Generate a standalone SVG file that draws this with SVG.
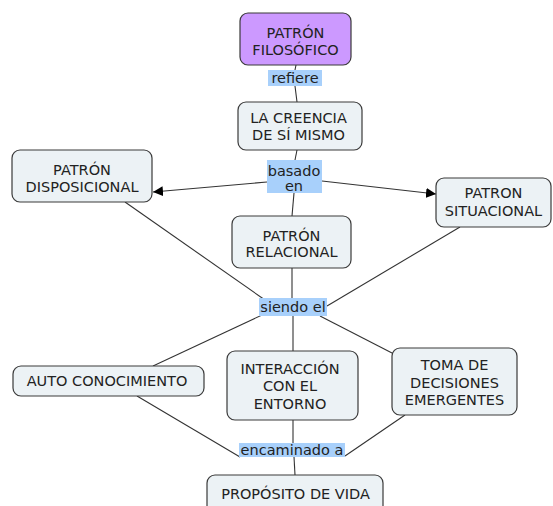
<svg xmlns="http://www.w3.org/2000/svg" width="553" height="506" viewBox="0 0 553 506">
<style>
.n{fill:#ecf2f5;stroke:#3a3a3a;stroke-width:1.2}
.p{fill:#cc99ff}
.t{font-family:"DejaVu Sans",Verdana,sans-serif;font-size:14.5px;fill:#222;text-anchor:middle}
.lb{fill:#a8d0fb}
.c{stroke:#333;stroke-width:1.1;fill:none}
</style>
<defs>
<marker id="ar" viewBox="0 0 10 10" refX="10" refY="5" markerWidth="10" markerHeight="10" markerUnits="userSpaceOnUse" orient="auto"><path d="M0,0L10,5L0,10z" fill="#000"/></marker>
</defs>
<rect width="553" height="506" fill="#fff"/>
<g id="connectors">
<path class="c" d="M296,65L295,70M295,86L297,102"/>
<path class="c" d="M297,150L295,160"/>
<path class="c" d="M267,182L153,192" marker-end="url(#ar)"/>
<path class="c" d="M322,181L436,194" marker-end="url(#ar)"/>
<path class="c" d="M294,193L292,216"/>
<path class="c" d="M125,202L265,300"/>
<path class="c" d="M460,227L327,306"/>
<path class="c" d="M292,268L292,298"/>
<path class="c" d="M262,315L153,366"/>
<path class="c" d="M293,316L293,351"/>
<path class="c" d="M320,316L392,353"/>
<path class="c" d="M137,396L240,457"/>
<path class="c" d="M293,420L293,443"/>
<path class="c" d="M405,415L345,456"/>
<path class="c" d="M294,457L295,475"/>
</g>
<g id="filosofico"><rect class="n p" x="240" y="13" width="111" height="52" rx="8"/><text class="t" x="295.5" y="38">PATRÓN</text><text class="t" x="295.5" y="55">FILOSÓFICO</text></g>
<g id="lbl-refiere"><rect class="lb" x="268" y="70" width="54" height="16"/><text class="t" x="295" y="83">refiere</text></g>
<g id="creencia"><rect class="n" x="238" y="102" width="124" height="48" rx="8"/><text class="t" x="298.5" y="123">LA CREENCIA</text><text class="t" x="298.5" y="140">DE SÍ MISMO</text></g>
<g id="lbl-basado"><rect class="lb" x="267" y="160" width="55" height="33"/><text class="t" x="294" y="176">basado</text><text class="t" x="294" y="191">en</text></g>
<g id="disposicional"><rect class="n" x="12" y="150" width="140" height="52" rx="8"/><text class="t" x="82" y="175">PATRÓN</text><text class="t" x="82" y="192">DISPOSICIONAL</text></g>
<g id="situacional"><rect class="n" x="436" y="178" width="115" height="49" rx="8"/><text class="t" x="493.5" y="198">PATRON</text><text class="t" x="493.5" y="216">SITUACIONAL</text></g>
<g id="relacional"><rect class="n" x="232" y="216" width="119" height="52" rx="8"/><text class="t" x="291.5" y="241">PATRÓN</text><text class="t" x="291.5" y="257">RELACIONAL</text></g>
<g id="lbl-siendo"><rect class="lb" x="259" y="298" width="68" height="18"/><text class="t" x="293" y="312">siendo el</text></g>
<g id="auto"><rect class="n" x="13" y="366" width="191" height="30" rx="8"/><text class="t" x="107" y="386">AUTO CONOCIMIENTO</text></g>
<g id="interaccion"><rect class="n" x="227" y="351" width="131" height="69" rx="8"/><text class="t" x="290" y="374">INTERACCIÓN</text><text class="t" x="290" y="391">CON EL</text><text class="t" x="290" y="409">ENTORNO</text></g>
<g id="toma"><rect class="n" x="392" y="348" width="125" height="67" rx="8"/><text class="t" x="454.5" y="370">TOMA DE</text><text class="t" x="454.5" y="388">DECISIONES</text><text class="t" x="454.5" y="405">EMERGENTES</text></g>
<g id="lbl-encaminado"><rect class="lb" x="239" y="443" width="106" height="14"/><text class="t" x="292" y="455">encaminado a</text></g>
<g id="proposito"><rect class="n" x="207" y="475" width="176" height="40" rx="8"/><text class="t" x="295.5" y="499">PROPÓSITO DE VIDA</text></g>
</svg>
